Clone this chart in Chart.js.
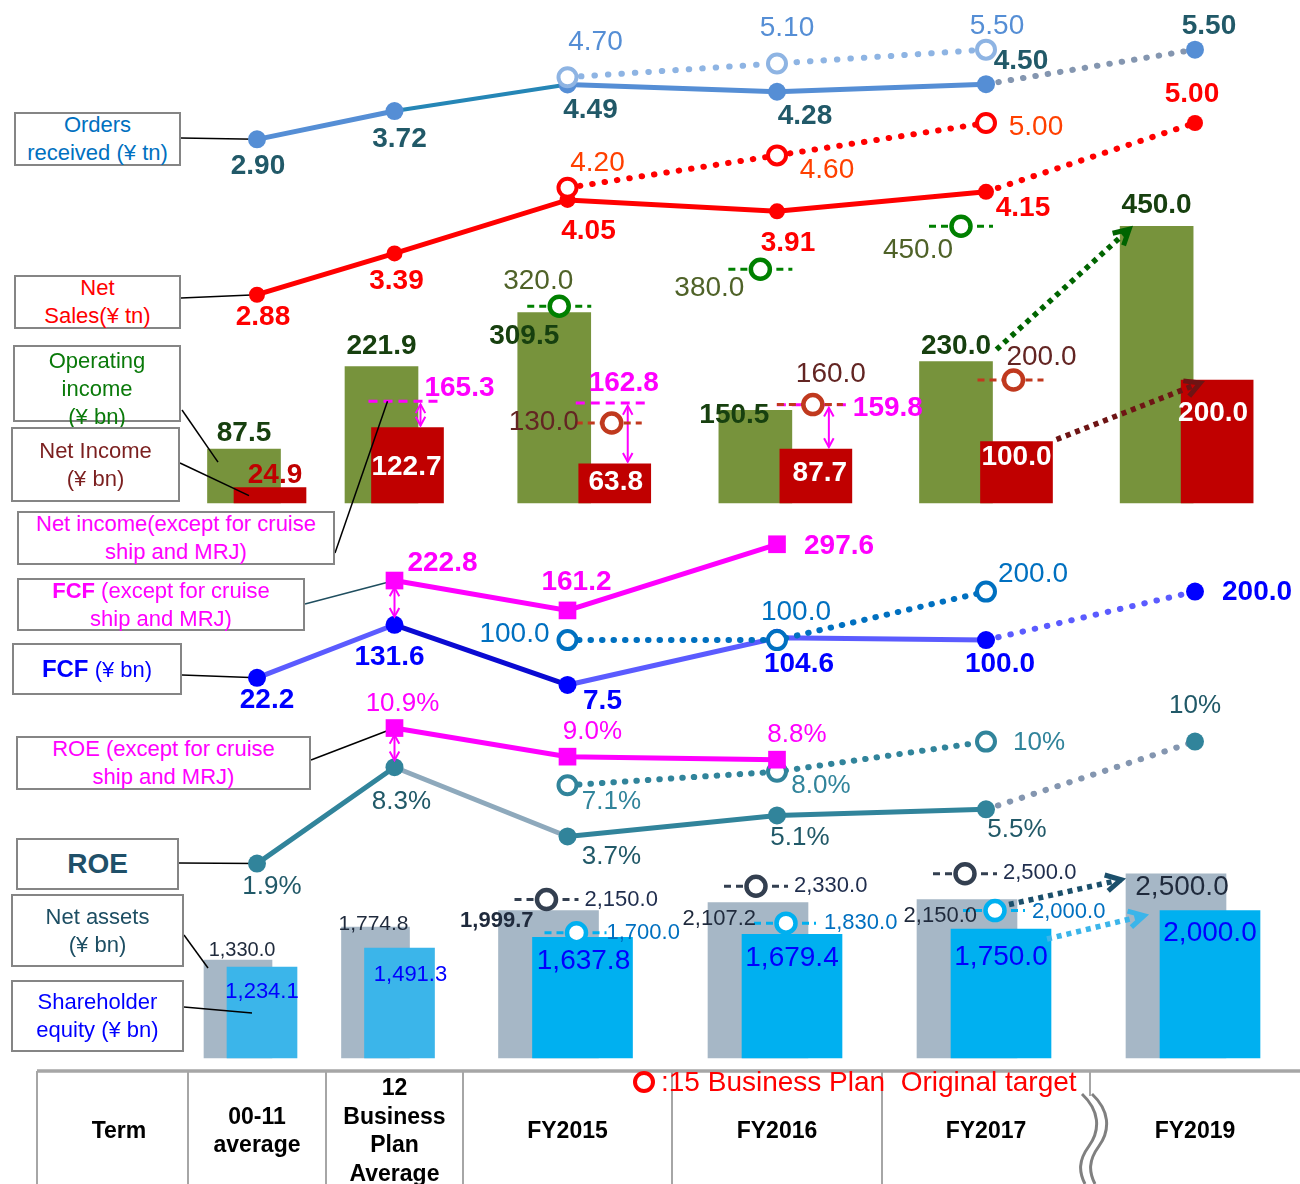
<!DOCTYPE html>
<html lang="en">
<head>
<meta charset="utf-8">
<title>Key financial indicators</title>
<script src="https://cdn.jsdelivr.net/npm/chart.js@4.4.1/dist/chart.umd.min.js"></script>
<style>
  html, body { margin: 0; padding: 0; background: #fff; }
  #board { position: relative; width: 1300px; height: 1184px; overflow: hidden;
           font-family: "Liberation Sans", Arial, sans-serif; }
  #board canvas { position: absolute; left: 0; }
  .box { position: absolute; box-sizing: border-box; border: 2.5px solid #858585; background: #fff;
         display: flex; flex-direction: column; justify-content: center; align-items: center;
         text-align: center; font-size: 22px; line-height: 28px; white-space: nowrap; z-index: 5; }
  .cell { position: absolute; top: 1073px; height: 114px; display: flex; align-items: center;
          justify-content: center; text-align: center; white-space: pre-line; font-weight: bold;
          font-size: 23px; line-height: 28.5px; color: #000; z-index: 6; box-sizing: border-box; }
  #legend { position: absolute; left: 633px; top: 1070px; height: 24px; display: flex; align-items: center;
            z-index: 7; color: #ff0000; font-size: 28px; white-space: pre; }
  #legend .ring { width: 14px; height: 14px; border: 4px solid #ff0000; border-radius: 50%; margin-right: 6px; }
  #grid { position: absolute; left: 0; top: 0; z-index: 4; }
</style>
</head>
<body>
<div id="board">
  <canvas id="pSales"></canvas>
  <canvas id="pIncome"></canvas>
  <canvas id="pFcf"></canvas>
  <canvas id="pRoe"></canvas>
  <canvas id="pEquity"></canvas>

  <div class="box" style="left:14px;top:112px;width:167px;height:54px;color:#0070c0">Orders<br>received (¥ tn)</div>
  <div class="box" style="left:14px;top:275px;width:167px;height:54px;color:#ff0000">Net<br>Sales(¥ tn)</div>
  <div class="box" style="left:13px;top:345px;width:168px;height:77px;color:#0a7a0a;justify-content:flex-start;padding-top:0">Operating<br>income<br>(¥ bn)</div>
  <div class="box" style="left:11px;top:427px;width:169px;height:75px;color:#7b1f1f">Net Income<br>(¥ bn)</div>
  <div class="box" style="left:17px;top:511px;width:318px;height:54px;color:#ff00ff">Net income(except for cruise<br>ship and MRJ)</div>
  <div class="box" style="left:17px;top:578px;width:288px;height:53px;color:#ff00ff"><span><b>FCF</b> (except for cruise</span>ship and MRJ)</div>
  <div class="box" style="left:12px;top:643px;width:170px;height:52px;color:#0000ff"><span><b style="font-size:24px">FCF</b> (¥ bn)</span></div>
  <div class="box" style="left:16px;top:736px;width:295px;height:54px;color:#ff00ff">ROE (except for cruise<br>ship and MRJ)</div>
  <div class="box" style="left:16px;top:838px;width:163px;height:52px;color:#1f5069;font-weight:bold;font-size:28px">ROE</div>
  <div class="box" style="left:11px;top:894px;width:173px;height:73px;color:#1d4e63">Net assets<br>(¥ bn)</div>
  <div class="box" style="left:11px;top:980px;width:173px;height:72px;color:#0000ff">Shareholder<br>equity (¥ bn)</div>

  <svg id="grid" width="1300" height="1184"></svg>
  <div id="legend"><span class="ring"></span><span>:15 Business Plan  Original target</span></div>
</div>

<script>
// ---------- categories ----------
const terms = ['00-11\naverage', '12\nBusiness\nPlan\nAverage', 'FY2015', 'FY2016', 'FY2017', 'FY2019'];
const termHeader = 'Term';

// ---------- ¥ tn ----------
const ordersReceived  = [2.90, 3.72, 4.49, 4.28, 4.50, 5.50];
const ordersTarget    = [null, null, 4.70, 5.10, 5.50, null];
const netSales        = [2.88, 3.39, 4.05, 3.91, 4.15, 5.00];
const netSalesTarget  = [null, null, 4.20, 4.60, 5.00, null];

// ---------- ¥ bn ----------
const operatingIncome       = [87.5, 221.9, 309.5, 150.5, 230.0, 450.0];
const operatingIncomeTarget = [null, null, 320.0, 380.0, 450.0, null];
const netIncome             = [24.9, 122.7, 63.8, 87.7, 100.0, 200.0];
const netIncomeTarget       = [null, null, 130.0, 160.0, 200.0, null];
const netIncomeExCruiseMRJ  = [null, 165.3, 162.8, 159.8, null, null];

const fcf            = [22.2, 131.6, 7.5, 104.6, 100.0, 200.0];
const fcfTarget      = [null, null, 100.0, 100.0, 200.0, null];
const fcfExCruiseMRJ = [null, 222.8, 161.2, 297.6, null, null];

// ---------- % ----------
const roe            = [1.9, 8.3, 3.7, 5.1, 5.5, 10];
const roeTarget      = [null, null, 7.1, 8.0, 10, null];
const roeExCruiseMRJ = [null, 10.9, 9.0, 8.8, null, null];

// ---------- ¥ bn ----------
const netAssets         = [1330.0, 1774.8, 1999.7, 2107.2, 2150.0, 2500.0];
const netAssetsTarget   = [null, null, 2150.0, 2330.0, 2500.0, null];
const shareholderEquity = [1234.1, 1491.3, 1637.8, 1679.4, 1750.0, 2000.0];
const equityTarget      = [null, null, 1700.0, 1830.0, 2000.0, null];

// ---------- layout ----------
const W = 1300;
const tableEdges = [37, 188, 326, 463, 672, 882, 1090, 1300];   // "Term" column first
const colLeft = i => tableEdges[i + 1];
const colW = i => tableEdges[i + 2] - tableEdges[i + 1];
const colCenter = i => colLeft(i) + colW(i) / 2;
const isWide = i => colW(i) > 160;
const none = () => 0;
// income bar pairs in the fiscal-year columns sit slightly closer together than the table grid
const tight = i => (colCenter(4) - colCenter(i)) * 0.04;
const shift = {
  oi: i => (isWide(i) ? -30 + tight(i) : -13),
  ni: i => (isWide(i) ? 30.5 + tight(i) : 13),
  na: () => -19,
  se: i => (isWide(i) ? 15 : 5)
};
const pts = (values, dx = none) => values.map((v, i) => ({ x: colCenter(i) + dx(i), y: v }));
const splitBy = (values, wide) => values.map((v, i) => (isWide(i) === wide ? v : null));

const FAMILY = '"Liberation Sans", Arial, sans-serif';
const font = (size, bold) => `${bold ? 'bold ' : ''}${size}px ${FAMILY}`;
const fmt2 = v => v.toFixed(2);
const fmt1 = v => v.toFixed(1);
const fmtK = v => v.toLocaleString('en-US', { minimumFractionDigits: 1, maximumFractionDigits: 1 });
// whole-number targets of 10% and above are printed without a decimal
const fmtPct = v => (v >= 10 && Number.isInteger(v) ? String(v) : v.toFixed(1)) + '%';

// label offsets from each mark: [dx, dy, align, font, color]
const LBL = {
  orders:      [[1, 27], [5, 28], [23, 26], [28, 25], [35, -23], [14, -23]],
  ordersT:     [null, null, [28, -35], [10, -35], [11, -23], null],
  sales:       [[6, 23], [2, 28], [21, 31], [11, 32], [37, 16], [-3, -29]],
  salesT:      [null, null, [30, -25], [50, 15], [50, 4], null],
  oi:          [[0, -16], [0, -20], [-30, 24], [-21, 5], [0, -15], [0, -21]],
  ni:          [[5, -12, 'center', null, '#c00000'], [-1, 40], [1, 19], [4, 24], [0, 16], [-4, 33]],
  oiT:         [null, null, [-21, -25], [-51, 19], [-43, 24], null],
  niT:         [null, null, [-33, -1, 'right'], [18, -30], [28, -23], null],
  niEx:        [null, [55, -13], [12, -20], [75, 4], null, null],
  fcf:         [[10, 22], [-5, 33], [35, 16], [22, 26], [14, 24], [27, 1, 'left']],
  fcfEx:       [null, [48, -17], [9, -28], [27, 2, 'left'], null, null],
  fcfT:        [null, null, [-18, -6, 'right'], [19, -28], [47, -17], null],
  roe:         [[15, 23], [7, 35], [44, 20], [23, 22], [31, 20], [0, -36]],
  roeEx:       [null, [8, -24], [25, -25], [20, -25], null, null],
  roeT:        [null, null, [44, 17], [44, 14], [27, 1, 'left'], null],
  na:          [[4, -9, 'center', font(20)], [-2, -3, 'center', font(21)], [-15, 10, 'right', font(22, true)],
                [-2, 16, 'right'], [10, 16, 'right'], [6, 14, 'center', font(28)]],
  se:          [[0, 25, 'center', font(22)], [11, 27, 'center', font(22)], [1, 24], [0, 24], [0, 28], [0, 23]],
  naT:         [null, null, [38, 0, 'left'], [38, 0, 'left'], [38, -1, 'left'], null],
  seT:         [null, null, [30, 0, 'left'], [38, 0, 'left'], [37, 1, 'left'], null]
};

// ---------- drawing helpers ----------
function seg(ctx, x1, y1, x2, y2, color, width, dash, cap) {
  ctx.save();
  ctx.strokeStyle = color; ctx.lineWidth = width; ctx.setLineDash(dash || []);
  ctx.lineCap = cap || 'butt';
  ctx.beginPath(); ctx.moveTo(x1, y1); ctx.lineTo(x2, y2); ctx.stroke();
  ctx.restore();
}
function chevron(ctx, x, y, ang, s, color, w) {
  ctx.save();
  ctx.strokeStyle = color; ctx.lineWidth = w; ctx.setLineDash([]); ctx.lineJoin = 'miter';
  ctx.beginPath();
  ctx.moveTo(x - s * Math.cos(ang - 0.5), y - s * Math.sin(ang - 0.5));
  ctx.lineTo(x, y);
  ctx.lineTo(x - s * Math.cos(ang + 0.5), y - s * Math.sin(ang + 0.5));
  ctx.stroke();
  ctx.restore();
}
function dottedArrow(ctx, x1, y1, x2, y2, color) {
  seg(ctx, x1, y1, x2, y2, color, 5.5, [5, 5]);
  chevron(ctx, x2, y2, Math.atan2(y2 - y1, x2 - x1), 17, color, 5);
}
function doubleArrow(ctx, x, y1, y2, color) {
  seg(ctx, x, y1, x, y2, color, 2);
  chevron(ctx, x, y1, -Math.PI / 2, 10, color, 2);
  chevron(ctx, x, y2, Math.PI / 2, 10, color, 2);
}
function text(ctx, str, x, y, f, color, align) {
  ctx.save();
  ctx.font = f; ctx.fillStyle = color; ctx.textAlign = align || 'center'; ctx.textBaseline = 'middle';
  ctx.fillText(str, x, y);
  ctx.restore();
}
const metaOf = (chart, key) => chart.getDatasetMeta(chart.data.datasets.findIndex(d => d.key === key));
const el = (chart, keys, i) => {
  for (const k of [].concat(keys)) {
    const ds = chart.data.datasets.find(d => d.key === k);
    if (ds && ds.data[i].y != null) return metaOf(chart, k).data[i];
  }
  return null;
};
function targetDashes(chart, key, color, left, right) {
  const ctx = chart.ctx;
  const ds = chart.data.datasets.find(d => d.key === key);
  metaOf(chart, key).data.forEach((p, i) => {
    if (ds.data[i].y == null) return;
    seg(ctx, p.x - left, p.y, p.x + right, p.y, color, 3, [7, 5]);
  });
}

// draws each dataset's value next to its mark
const valueLabelPlugin = {
  id: 'valueLabels',
  afterDatasetsDraw(chart) {
    chart.data.datasets.forEach((ds, di) => {
      const spec = ds.valueLabels;
      if (!spec) return;
      const meta = chart.getDatasetMeta(di);
      ds.data.forEach((d, i) => {
        const at = spec.at[i];
        if (d.y == null || !at) return;
        const p = meta.data[i];
        const [dx, dy, align, f, color] = at;
        text(chart.ctx, spec.fmt(d.y), p.x + dx, p.y + dy, f || spec.font, color || spec.color, align);
      });
    });
  }
};

// ---------- dataset factories ----------
function actualLine(key, values, axis, color, radius, pointColor, segment, labels, order) {
  return { key, type: 'line', data: pts(values), yAxisID: axis, borderColor: color, borderWidth: 5,
           borderCapStyle: 'round', pointRadius: radius, pointBackgroundColor: pointColor,
           pointBorderColor: pointColor, pointBorderWidth: 0, segment, valueLabels: labels, order };
}
function targetLine(key, values, axis, color, dash, labels, order) {
  return { key, type: 'line', data: pts(values), yAxisID: axis, borderColor: color, borderWidth: 6,
           borderDash: dash, borderCapStyle: 'round', pointRadius: 9, pointBorderWidth: 4,
           pointBorderColor: color, pointBackgroundColor: '#fff', valueLabels: labels, order };
}
function exLine(key, values, axis, labels, order) {
  return { key, type: 'line', data: pts(values), yAxisID: axis, borderColor: '#ff00ff', borderWidth: 5,
           pointStyle: 'rect', pointRadius: 12.5, pointBackgroundColor: '#ff00ff', pointBorderWidth: 0,
           valueLabels: labels, order };
}
function markers(key, values, dx, color, labels, order) {
  return { key, type: 'line', data: pts(values, dx), yAxisID: 'y', showLine: false, pointRadius: 9.5,
           pointBorderWidth: 4.5, pointBorderColor: color, pointBackgroundColor: '#fff',
           valueLabels: labels, order };
}
function bars(key, values, dx, color, thickness, labels, order) {
  return { key, type: 'bar', data: pts(values, dx), yAxisID: 'y', backgroundColor: color,
           borderWidth: 0, grouped: false, barThickness: thickness, maxBarThickness: thickness,
           valueLabels: labels, order };
}

// ---------- panel builder ----------
function panel(id, top, height, axes, datasets, hooks) {
  const canvas = document.getElementById(id);
  canvas.width = W; canvas.height = height; canvas.style.top = top + 'px';
  const scales = { x: { type: 'linear', display: false, offset: false, grid: { offset: false }, min: 0, max: W } };
  for (const [axisId, a] of Object.entries(axes)) {
    scales[axisId] = { type: 'linear', display: false, offset: false,
                       min: (a.zero - top - height) / a.k, max: (a.zero - top) / a.k };
  }
  return new Chart(canvas, {
    type: 'line',
    data: { datasets },
    options: {
      responsive: false, animation: false, devicePixelRatio: 1, events: [],
      layout: { padding: 0, autoPadding: false },
      plugins: { legend: { display: false }, tooltip: { enabled: false } },
      scales
    },
    plugins: [valueLabelPlugin, Object.assign({ id: id + 'Deco' }, hooks ? hooks(y => y - top) : {})]
  });
}

// ---------- orders received & net sales ----------
panel('pSales', 0, 345, { y: { zero: 528, k: 81 }, yO: { zero: 239.4, k: 34.5 } }, [
  targetLine('ordersT', ordersTarget, 'yO', '#8eb4e3', [0.5, 13],
             { fmt: fmt2, font: font(28), color: '#558ed5', at: LBL.ordersT }, 0),
  targetLine('salesT', netSalesTarget, 'y', '#ff0000', [0.5, 12],
             { fmt: fmt2, font: font(28), color: '#ff4000', at: LBL.salesT }, 1),
  actualLine('orders', ordersReceived, 'yO', '#558ed5', 9, '#558ed5', {
      borderColor: c => (c.p1DataIndex === 5 ? '#8496b0' : c.p0DataIndex === 1 ? '#2586b6' : undefined),
      borderWidth: c => (c.p1DataIndex === 5 ? 6 : c.p0DataIndex === 1 ? 4 : undefined),
      borderDash: c => (c.p1DataIndex === 5 ? [0.5, 12] : undefined)
    }, { fmt: fmt2, font: font(28, true), color: '#215968', at: LBL.orders }, 2),
  actualLine('sales', netSales, 'y', '#ff0000', 8, '#ff0000', {
      borderWidth: c => (c.p1DataIndex === 5 ? 6 : undefined),
      borderDash: c => (c.p1DataIndex === 5 ? [0.5, 12] : undefined)
    }, { fmt: fmt2, font: font(28, true), color: '#ff0000', at: LBL.sales }, 3)
], Y => ({
  beforeDatasetsDraw(chart) {
    const o = metaOf(chart, 'orders').data[0], s = metaOf(chart, 'sales').data[0];
    seg(chart.ctx, 181, Y(138), o.x, o.y, '#000', 1.5);
    seg(chart.ctx, 181, Y(298), s.x, s.y, '#000', 1.5);
  }
}));

// ---------- operating income & net income ----------
panel('pIncome', 170, 400, { y: { zero: 503, k: 0.615 } }, [
  markers('niT', netIncomeTarget, i => shift.ni(i) - 3, '#c0391e',
          { fmt: fmt1, font: font(28), color: '#632523', at: LBL.niT }, 0),
  markers('oiT', operatingIncomeTarget, i => shift.oi(i) + 5, '#008000',
          { fmt: fmt1, font: font(28), color: '#4f6228', at: LBL.oiT }, 1),
  bars('ni', netIncome, shift.ni, '#c00000', 72,
       { fmt: fmt1, font: font(28, true), color: '#ffffff', at: LBL.ni }, 2),
  bars('oi', operatingIncome, shift.oi, '#77933c', 73,
       { fmt: fmt1, font: font(28, true), color: '#17400f', at: LBL.oi }, 3)
], Y => ({
  beforeDatasetDraw(chart, args) {
    const key = chart.data.datasets[args.index].key;
    const ctx = chart.ctx;
    if (key === 'oiT') {
      // net income excluding cruise ship and MRJ
      const yS = chart.scales.y;
      netIncomeExCruiseMRJ.forEach((v, i) => {
        if (v == null) return;
        const b = el(chart, 'ni', i);
        const cx = b.x - 3, y = yS.getPixelForValue(v);
        seg(ctx, cx - 36, y, cx + 36, y, '#ff00ff', 3, [9, 6]);
        doubleArrow(ctx, b.x + 13, y + 3, b.y - 2, '#ff00ff');
        const [dx, dy] = LBL.niEx[i];
        text(ctx, fmt1(v), cx + dx, y + dy, font(28, true), '#ff00ff');
      });
      targetDashes(chart, 'oiT', '#008000', 32, 32);
    }
    if (key === 'niT') targetDashes(chart, 'niT', '#c0391e', 36, 30);
  },
  afterDatasetsDraw(chart) {
    const ctx = chart.ctx;
    const g4 = el(chart, 'oi', 4), g5 = el(chart, 'oi', 5);
    const r4 = el(chart, 'ni', 4), r5 = el(chart, 'ni', 5);
    dottedArrow(ctx, g4.x + g4.width / 2 + 4, g4.y - 12, g5.x - g5.width / 2 + 9, g5.y + 3, '#006400');
    dottedArrow(ctx, r4.x + r4.width / 2 + 4, r4.y - 2, r5.x - r5.width / 2 + 19, r5.y + 3, '#6e1414');
    const g0 = el(chart, 'oi', 0), r0 = el(chart, 'ni', 0), r1 = el(chart, 'ni', 1);
    seg(ctx, 182, Y(410), g0.x - 26, g0.y + 13, '#000', 1.5);
    seg(ctx, 180, Y(463), r0.x - 21, r0.y + 8, '#000', 1.5);
    seg(ctx, 335, Y(553), r1.x - 3 - 17, chart.scales.y.getPixelForValue(netIncomeExCruiseMRJ[1]), '#000', 1.5);
  }
}));

// ---------- free cash flow ----------
panel('pFcf', 520, 200, { y: { zero: 688.6, k: 0.485 } }, [
  exLine('fcfEx', fcfExCruiseMRJ, 'y', { fmt: fmt1, font: font(28, true), color: '#ff00ff', at: LBL.fcfEx }, 0),
  targetLine('fcfT', fcfTarget, 'y', '#0070c0', [0.5, 11],
             { fmt: fmt1, font: font(28), color: '#0070c0', at: LBL.fcfT }, 1),
  actualLine('fcf', fcf, 'y', '#5b5bff', 9, '#0000ff', {
      borderColor: c => (c.p0DataIndex === 1 ? '#0a0ad2' : undefined),
      borderWidth: c => (c.p1DataIndex === 5 ? 6 : undefined),
      borderDash: c => (c.p1DataIndex === 5 ? [0.5, 12] : undefined)
    }, { fmt: fmt1, font: font(28, true), color: '#0000ff', at: LBL.fcf }, 2)
], Y => ({
  beforeDatasetsDraw(chart) {
    const ctx = chart.ctx;
    const e1 = metaOf(chart, 'fcfEx').data[1], f0 = metaOf(chart, 'fcf').data[0];
    seg(ctx, 305, Y(604), e1.x, e1.y, '#1f4e5f', 1.5);
    seg(ctx, 182, Y(675), f0.x, f0.y, '#000', 1.5);
  },
  afterDatasetsDraw(chart) {
    const e1 = metaOf(chart, 'fcfEx').data[1], f1 = metaOf(chart, 'fcf').data[1];
    doubleArrow(chart.ctx, f1.x, e1.y + 7, f1.y - 8, '#ff00ff');
  }
}));

// ---------- ROE ----------
panel('pRoe', 680, 220, { y: { zero: 892.2, k: 15.06 } }, [
  exLine('roeEx', roeExCruiseMRJ, 'y', { fmt: fmtPct, font: font(26), color: '#ff00ff', at: LBL.roeEx }, 0),
  targetLine('roeT', roeTarget, 'y', '#31849b', [0.5, 11],
             { fmt: fmtPct, font: font(26), color: '#31849b', at: LBL.roeT }, 1),
  actualLine('roe', roe, 'y', '#31849b', 9, '#31849b', {
      borderColor: c => (c.p1DataIndex === 5 ? '#8496b0' : c.p0DataIndex === 1 ? '#8ea9bc' : undefined),
      borderWidth: c => (c.p1DataIndex === 5 ? 6 : undefined),
      borderDash: c => (c.p1DataIndex === 5 ? [0.5, 12] : undefined)
    }, { fmt: fmtPct, font: font(26), color: '#215968', at: LBL.roe }, 2)
], Y => ({
  beforeDatasetsDraw(chart) {
    const ctx = chart.ctx;
    const e1 = metaOf(chart, 'roeEx').data[1], r0 = metaOf(chart, 'roe').data[0];
    seg(ctx, 311, Y(760), e1.x, e1.y, '#000', 1.5);
    seg(ctx, 179, Y(863), r0.x, r0.y, '#000', 1.5);
  },
  afterDatasetsDraw(chart) {
    const e1 = metaOf(chart, 'roeEx').data[1], r1 = metaOf(chart, 'roe').data[1];
    doubleArrow(chart.ctx, r1.x, e1.y + 7, r1.y - 7, '#ff00ff');
  }
}));

// ---------- net assets & shareholder equity ----------
const naLabels = { fmt: fmtK, font: font(22), color: '#1f2a3c', at: LBL.na };
const seLabels = { fmt: fmtK, font: font(28), color: '#0000ff', at: LBL.se };
panel('pEquity', 850, 215, { y: { zero: 1058, k: 0.0737 } }, [
  markers('seT', equityTarget, i => shift.se(i) - 6, '#00b0f0',
          { fmt: fmtK, font: font(22), color: '#0070c0', at: LBL.seT }, 0),
  markers('naT', netAssetsTarget, i => shift.na(i) - 2, '#333f50',
          { fmt: fmtK, font: font(22), color: '#1f2d4d', at: LBL.naT }, 1),
  bars('seN', splitBy(shareholderEquity, false), shift.se, '#3bb5ea', 70, seLabels, 2),
  bars('seW', splitBy(shareholderEquity, true), shift.se, '#00b0f0', 100, seLabels, 3),
  bars('naN', splitBy(netAssets, false), shift.na, '#a6b7c6', 68, naLabels, 4),
  bars('naW', splitBy(netAssets, true), shift.na, '#a6b7c6', 100, naLabels, 5)
], Y => ({
  beforeDatasetDraw(chart, args) {
    const key = chart.data.datasets[args.index].key;
    if (key === 'naT') targetDashes(chart, 'naT', '#333f50', 32, 32);
    if (key === 'seT') targetDashes(chart, 'seT', '#00b0f0', 32, 30);
  },
  afterDatasetsDraw(chart) {
    const ctx = chart.ctx;
    const g4 = el(chart, ['naN', 'naW'], 4), g5 = el(chart, ['naN', 'naW'], 5);
    const b4 = el(chart, ['seN', 'seW'], 4), b5 = el(chart, ['seN', 'seW'], 5);
    dottedArrow(ctx, g4.x + g4.width / 2 - 8, g4.y + 5, g5.x - g5.width / 2 - 5, g5.y + 6, '#1b4f6b');
    dottedArrow(ctx, b4.x + b4.width / 2 - 4, b4.y + 10, b5.x - b5.width / 2 - 16, b5.y + 5, '#3bb5ea');
    const g0 = el(chart, ['naN', 'naW'], 0), b0 = el(chart, ['seN', 'seW'], 0);
    seg(ctx, 184, Y(935), g0.x - g0.width / 2 + 4, g0.y + 8, '#000', 1.5);
    seg(ctx, 184, Y(1007), b0.x - 10, b0.y + 46, '#000', 1.5);
  }
}));

// ---------- term table ----------
(function table() {
  const svg = document.getElementById('grid');
  const NS = 'http://www.w3.org/2000/svg';
  const add = (tag, attrs) => {
    const n = document.createElementNS(NS, tag);
    for (const k in attrs) n.setAttribute(k, attrs[k]);
    svg.appendChild(n);
  };
  const rowTop = 1071;
  add('line', { x1: tableEdges[0], y1: rowTop, x2: W, y2: rowTop, stroke: '#a6a6a6', 'stroke-width': 3.5 });
  tableEdges.slice(0, 6).forEach(x =>
    add('line', { x1: x, y1: rowTop, x2: x, y2: 1184, stroke: '#a6a6a6', 'stroke-width': 2 }));
  const brk = tableEdges[6];
  add('line', { x1: brk, y1: rowTop, x2: brk, y2: 1096, stroke: '#a6a6a6', 'stroke-width': 2 });
  [brk - 8, brk + 2].forEach(x0 => add('path', {
    d: `M${x0},1094 C${x0 + 17},1110 ${x0 + 19},1129 ${x0 + 7},1146 C${x0 - 4},1161 ${x0 - 3},1172 ${x0 + 3},1184`,
    fill: 'none', stroke: '#808080', 'stroke-width': 3
  }));

  const board = document.getElementById('board');
  const cell = (label, left, width, padLeft) => {
    const d = document.createElement('div');
    d.className = 'cell';
    d.style.left = left + 'px'; d.style.width = width + 'px';
    if (padLeft) d.style.paddingLeft = padLeft + 'px';
    d.textContent = label;
    board.appendChild(d);
  };
  cell(termHeader, tableEdges[0], tableEdges[1] - tableEdges[0], 13);
  terms.forEach((t, i) => cell(t, colLeft(i), colW(i)));
})();
</script>
</body>
</html>
